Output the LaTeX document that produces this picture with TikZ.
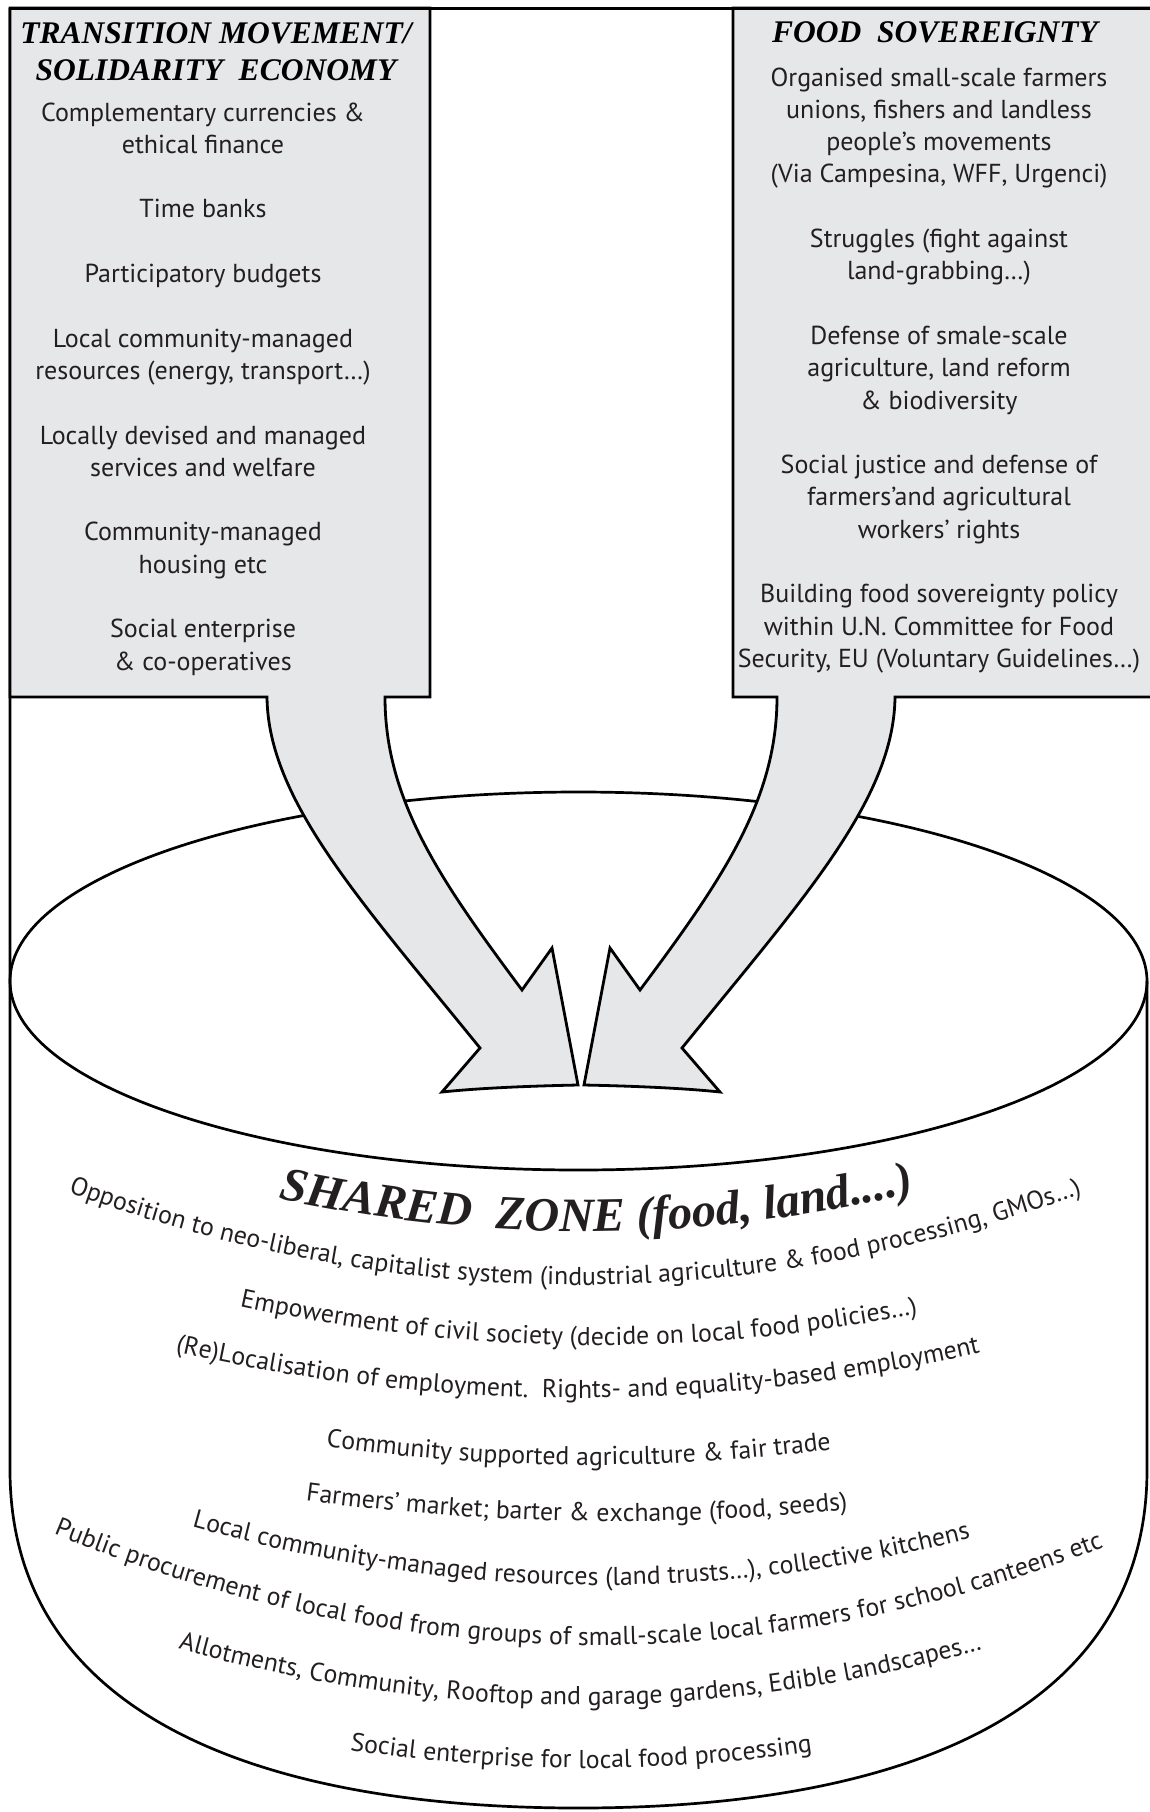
\documentclass[tikz,border=0pt]{standalone}
\usepackage{fontspec}
\setmainfont{PT Sans}
\newfontfamily\serifbi{Liberation Serif}
\usetikzlibrary{decorations.text,calc}
\definecolor{boxgray}{RGB}{230,231,233}
\definecolor{txt}{RGB}{35,31,32}
\newcommand\bodysize{\fontsize{26}{30}\selectfont}
\newcommand\zonesize{\fontsize{25.8}{30}\selectfont}
\newcommand\ttlsize{\serifbi\bfseries\itshape\fontsize{31.5}{37}\selectfont}
% #1 left end, #2 quadratic control point, #3 right end, #4 text
\newcommand\zoneline[4]{%
  \path[decorate,decoration={text along path,text align=center,text color=txt,text={#4}}]
    ($(#1)!-90pt!(#2)$) -- (#1)
    .. controls ($(#1)!0.6667!(#2)$) and ($(#3)!0.6667!(#2)$) .. (#3)
    -- ($(#3)!-90pt!(#2)$);}
\begin{document}
\begin{tikzpicture}[x=1pt,y=-1pt,
  outline/.style={draw=black,line width=2.7pt},
  panel/.style={draw=black,fill=boxgray,line width=2.8pt,line join=miter,miter limit=8},
  body/.style={anchor=base,inner sep=0pt,text=txt,font=\bodysize},
  ttl/.style={anchor=base,inner sep=0pt,text=black,font=\ttlsize}]
\useasboundingbox (0,0) rectangle (1149,1812);
\fill[white] (0,0) rectangle (1149,1812);
% cylinder
\draw[outline] (578.5,981) ellipse [x radius=568.5pt,y radius=189pt];
\draw[outline] (10,8) -- (10,1470) .. controls (10,1710) and (250,1808) .. (578.5,1808)
  .. controls (907,1808) and (1147,1710) .. (1147,1470) -- (1147,981);
% left panel with arrow
\draw[panel] (10,8) -- (430,8) -- (430,697) -- (385,697)
  .. controls (385,800) and (440,880) .. (522,990)
  -- (552,948) -- (578,1085)
  .. controls (530,1086) and (480,1088) .. (442,1092)
  -- (480,1048)
  .. controls (360,900) and (268,800) .. (267,697)
  -- (10,697) -- cycle;
% right panel with arrow
\draw[panel] (733,8) -- (1160,8) -- (1160,697) -- (895,697)
  .. controls (894,800) and (802,900) .. (682,1048)
  -- (720,1092)
  .. controls (682,1088) and (632,1086) .. (584,1085)
  -- (610,948) -- (640,990)
  .. controls (722,880) and (777,800) .. (777,697)
  -- (733,697) -- cycle;
\draw[line width=3pt] (10,8) -- (1160,8);
% titles
\node[ttl] (tmA) at (216,43) {TRANSITION MOVEMENT/};
\node[ttl] (tmB) at (216,80) {SOLIDARITY\ \ ECONOMY};
\node[ttl] (fsA) at (935,42) {FOOD\ \ SOVEREIGNTY};
% left box body
\foreach \k/\t [count=\i] in {0/{Complementary currencies \&},1/{ethical finance},3/{Time banks},
  5/{Participatory budgets},7/{Local community-managed},8/{resources (energy, transport…)},
  10/{Locally devised and managed},11/{services and welfare},13/{Community-managed},
  14/{housing etc},16/{Social enterprise},17/{\& co-operatives}}
  \node[body] (tm\i) at (203,{121+32.3*\k}) {\t};
% right box body
\foreach \k/\t [count=\i] in {0/{Organised small-scale farmers},1/{unions, fishers and landless},
  2/{people’s movements},3/{(Via Campesina, WFF, Urgenci)},5/{Struggles (fight against},
  6/{land-grabbing…)},8/{Defense of smale-scale},9/{agriculture, land reform},
  10/{\& biodiversity},12/{Social justice and defense of},13/{farmers’and agricultural},
  14/{workers’ rights},16/{Building food sovereignty policy},17/{within U.N. Committee for Food},
  18/{Security, EU (Voluntary Guidelines…)}}
  \node[body] (fs\i) at (939,{86+32.3*\k}) {\t};
% shared zone
\zoneline{276,1198}{597.5,1268}{917,1192}{|\serifbi\bfseries\itshape\fontsize{48}{50}\selectfont|SHARED{\ } ZONE (food, land....)}
\zoneline{65,1191}{573.5,1378}{1084,1193}{|\zonesize|Opposition to neo-liberal, capitalist system (industrial agriculture {\&} food processing, GMOs…)}
\zoneline{234,1305}{577.5,1381}{923,1313}{|\zonesize|Empowerment of civil society (decide on local food policies…)}
\zoneline{172,1351}{576.5,1444.5}{983,1352}{|\zonesize|(Re)Localisation of employment.{\ } Rights- and equality-based employment}
\zoneline{323,1446}{577.5,1482.5}{834,1449}{|\zonesize|Community supported agriculture {\&} fair trade}
\zoneline{308,1501}{577.5,1536.5}{845,1510}{|\zonesize|Farmers’ market; barter {\&} exchange (food, seeds)}
\zoneline{183,1524}{581,1640}{979,1536}{|\zonesize|Local community-managed resources (land trusts…), collective kitchens}
\zoneline{52,1533}{578,1750}{1104,1547}{|\zonesize|Public procurement of local food from groups of small-scale local farmers for school canteens etc}
\zoneline{172,1647}{580,1762.5}{988,1648}{|\zonesize|Allotments, Community, Rooftop and garage gardens, Edible landscapes…}
\zoneline{350,1750}{581,1785}{812,1752}{|\zonesize|Social enterprise for local food processing}
\end{tikzpicture}
\end{document}
